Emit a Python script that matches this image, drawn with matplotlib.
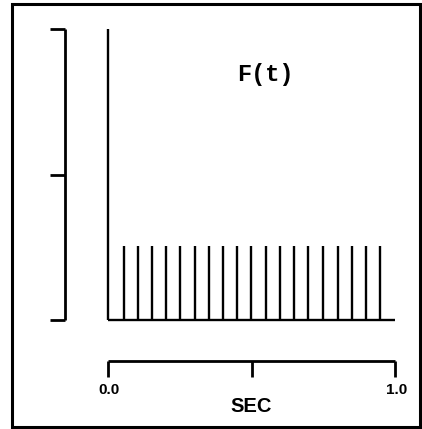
import matplotlib
matplotlib.use("Agg")
import matplotlib.pyplot as plt
from matplotlib.patches import Rectangle

# data (time in sec, amplitude relative to the first spike)
big_spike_t = 0.0
big_spike_amp = 1.0
spike_times = [0.056, 0.105, 0.153, 0.202, 0.251, 0.303, 0.352, 0.401, 0.449,
               0.498, 0.551, 0.599, 0.648, 0.697, 0.749, 0.801, 0.850, 0.899, 0.948]
spike_amp = 0.255
t_end = 1.0
scale_ticks = [0.0, 0.5, 1.0]
time_ticks = [0.0, 0.5, 1.0]
time_ticklabels = ["0.0", "", "1.0"]

W, H = 422, 429
fig = plt.figure(figsize=(W / 100, H / 100), dpi=100)
ax = fig.add_axes([0, 0, 1, 1])
# pixel mapping: t=0 -> x 108, t=1 -> x 395; amp 0 -> y 320, amp 1 -> y 29
px_per_t = 287.0
px_per_a = 291.0
ax.set_xlim((0 - 108) / px_per_t, (W - 108) / px_per_t)
ax.set_ylim((320 - H) / px_per_a, 320 / px_per_a)
ax.axis("off")

lw = 1.7
# spikes
ax.vlines(big_spike_t, 0, big_spike_amp, color="black", lw=lw)
ax.vlines(spike_times, 0, spike_amp, color="black", lw=lw)
ax.hlines(0, big_spike_t, t_end, color="black", lw=lw)

# amplitude scale bar on the left
sx = (65 - 108) / px_per_t
sx_tick = (50 - 108) / px_per_t
ax.vlines(sx, scale_ticks[0], scale_ticks[-1], color="black", lw=lw + 0.3)
ax.hlines(scale_ticks, sx_tick, sx, color="black", lw=lw + 0.3)

# time scale bar
ty = -(361 - 320) / px_per_a
ty_tick = -(377 - 320) / px_per_a
ax.hlines(ty, time_ticks[0], time_ticks[-1], color="black", lw=lw + 0.3)
ax.vlines(time_ticks, ty_tick, ty, color="black", lw=lw + 0.3)
for t, lab in zip(time_ticks, time_ticklabels):
    if lab:
        ax.text(t + 0.004, -(390 - 320) / px_per_a, lab, ha="center", va="center",
                fontsize=11, fontweight="bold", family="Liberation Sans")
ax.text(0.5, -(407 - 320) / px_per_a, "SEC", ha="center", va="center",
        fontsize=14.5, fontweight="bold", family="Liberation Sans")

ax.text((265 - 108) / px_per_t, (320 - 75) / px_per_a, "F(t)", ha="center",
        va="center", fontsize=17, fontweight="bold", family="Liberation Mono")

# frame around the figure
fig.add_artist(Rectangle((12 / W, 1 - 427 / H), 408 / W, 423 / H,
                         transform=fig.transFigure, fill=False,
                         edgecolor="black", lw=2.2))

fig.savefig("out.png", dpi=100)
